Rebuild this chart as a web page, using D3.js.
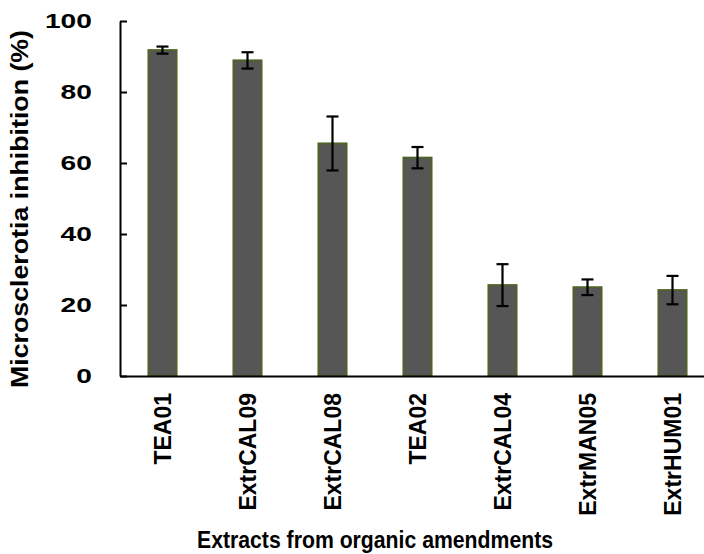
<!DOCTYPE html>
<html>
<head>
<meta charset="utf-8">
<script src="https://cdn.jsdelivr.net/npm/d3@7/dist/d3.min.js"></script>
<style>
  html, body { margin: 0; padding: 0; background: #fff; }
  svg { display: block; }
  text { font-family: "Liberation Sans", Arial, sans-serif; font-weight: bold; fill: #000; }
</style>
</head>
<body>
<svg id="chart" width="704" height="554"></svg>
<script>
// Extracts tested and their mean microsclerotia inhibition (%) with error (±)
const categories = ["TEA01", "ExtrCAL09", "ExtrCAL08", "TEA02", "ExtrCAL04", "ExtrMAN05", "ExtrHUM01"];
const inhibition = [91.8, 88.9, 65.5, 61.5, 25.6, 25.0, 24.2];
const errors = [1.0, 2.3, 7.6, 3.0, 5.9, 2.2, 4.0];
const yTicks = [0, 20, 40, 60, 80, 100];

const svg = d3.select("#chart");

const x = d3.scaleBand()
  .domain(categories)
  .range([120, 715])
  .paddingInner(0.67)
  .paddingOuter(0.335);

const y = d3.scaleLinear()
  .domain([0, 100])
  .range([376, 21]);

// Bars
svg.append("g")
  .selectAll("rect")
  .data(categories)
  .join("rect")
  .attr("x", d => x(d))
  .attr("y", (d, i) => y(inhibition[i]))
  .attr("width", x.bandwidth())
  .attr("height", (d, i) => y(0) - y(inhibition[i]))
  .attr("fill", "#565656")
  .attr("stroke", "#4f6228")
  .attr("stroke-width", 2);

// Error bars
const eb = svg.append("g")
  .attr("stroke", "#000")
  .attr("stroke-width", 2.2)
  .selectAll("g")
  .data(categories)
  .join("g")
  .attr("transform", d => `translate(${x(d) + x.bandwidth() / 2},0)`);

eb.append("line")
  .attr("y1", (d, i) => y(inhibition[i] + errors[i]))
  .attr("y2", (d, i) => y(inhibition[i] - errors[i]));
eb.append("line")
  .attr("x1", -6).attr("x2", 6)
  .attr("y1", (d, i) => y(inhibition[i] + errors[i]))
  .attr("y2", (d, i) => y(inhibition[i] + errors[i]));
eb.append("line")
  .attr("x1", -6).attr("x2", 6)
  .attr("y1", (d, i) => y(inhibition[i] - errors[i]))
  .attr("y2", (d, i) => y(inhibition[i] - errors[i]));

// Y axis with inward ticks
const yAxis = svg.append("g")
  .attr("transform", "translate(120,0)")
  .call(d3.axisLeft(y).tickValues(yTicks).tickSize(-7).tickSizeOuter(0).tickPadding(21));
yAxis.select(".domain").attr("stroke-width", 2).attr("stroke", "#000");
yAxis.selectAll(".tick line").attr("stroke-width", 2).attr("stroke", "#000");
yAxis.selectAll(".tick text")
  .attr("font-size", 21)
  .attr("font-family", "\"Liberation Sans\", Arial, sans-serif")
  .attr("font-weight", "bold")
  .attr("transform", "scale(1.34,1)");

// X axis: baseline and rotated category labels
const xAxis = svg.append("g")
  .attr("transform", `translate(0,${y(0)})`)
  .call(d3.axisBottom(x).tickSize(0).tickSizeOuter(0));
xAxis.select(".domain").attr("stroke-width", 2).attr("stroke", "#000");
xAxis.selectAll(".tick text")
  .attr("font-size", 23)
  .attr("font-family", "\"Liberation Sans\", Arial, sans-serif")
  .attr("font-weight", "bold")
  .attr("text-anchor", "end")
  .attr("transform", "rotate(-90)")
  .attr("x", -17)
  .attr("y", 0)
  .attr("dy", "0.36em");

// Axis titles
svg.append("text")
  .attr("transform", "translate(28,209) rotate(-90)")
  .attr("text-anchor", "middle")
  .attr("font-size", 23)
  .attr("textLength", 358)
  .attr("lengthAdjust", "spacingAndGlyphs")
  .text("Microsclerotia inhibition  (%)");

svg.append("text")
  .attr("x", 375)
  .attr("y", 548)
  .attr("text-anchor", "middle")
  .attr("font-size", 24)
  .attr("textLength", 356)
  .attr("lengthAdjust", "spacingAndGlyphs")
  .text("Extracts from organic amendments");
</script>
</body>
</html>
